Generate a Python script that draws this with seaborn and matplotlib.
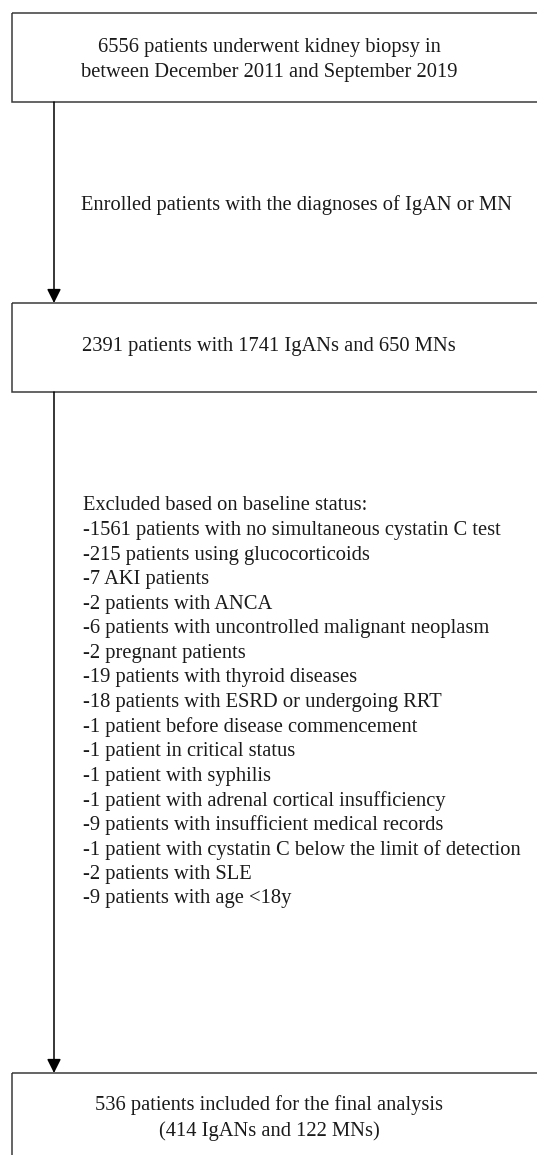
import seaborn as sns
import matplotlib.pyplot as plt
from matplotlib.patches import Rectangle

sns.set_theme(style="white")
plt.rcParams['font.family'] = ['Liberation Serif', 'DejaVu Serif']

# flowchart content
box_texts = [
    "6556 patients underwent kidney biopsy in\nbetween December 2011 and September 2019",
    "2391 patients with 1741 IgANs and 650 MNs",
    "536 patients included for the final analysis\n(414 IgANs and 122 MNs)",
]
step_label = "Enrolled patients with the diagnoses of IgAN or MN"
exclusion_title = "Excluded based on baseline status:"
exclusion_items = [
    "-1561 patients with no simultaneous cystatin C test",
    "-215 patients using glucocorticoids",
    "-7 AKI patients",
    "-2 patients with ANCA",
    "-6 patients with uncontrolled malignant neoplasm",
    "-2 pregnant patients",
    "-19 patients with thyroid diseases",
    "-18 patients with ESRD or undergoing RRT",
    "-1 patient before disease commencement",
    "-1 patient in critical status",
    "-1 patient with syphilis",
    "-1 patient with adrenal cortical insufficiency",
    "-9 patients with insufficient medical records",
    "-1 patient with cystatin C below the limit of detection",
    "-2 patients with SLE",
    "-9 patients with age <18y",
]

# layout in pixel units
box_top = [13, 303, 1073]
box_bottom = [102, 392, 1175]
text_y = [60, 347, 1118]
fs = 14.8

fig = plt.figure(figsize=(5.37, 11.55), dpi=100)
ax = fig.add_axes([0, 0, 1, 1])
ax.set_xlim(0, 537)
ax.set_ylim(1155, 0)
ax.axis("off")

for top, bot, txt, ty in zip(box_top, box_bottom, box_texts, text_y):
    ax.add_patch(Rectangle((12, top), 560, bot - top, fill=False,
                           edgecolor="#3a3a3a", lw=1.1, clip_on=True))
    ax.text(269, ty, txt, ha="center", va="center", fontsize=fs,
            color="#1a1a1a", linespacing=1.4)

# arrows
for y0, y1 in [(box_bottom[0], box_top[1]), (box_bottom[1], box_top[2])]:
    ax.annotate("", xy=(54, y1), xytext=(54, y0),
                arrowprops=dict(arrowstyle="-|>,head_length=0.7,head_width=0.35",
                                color="black", lw=1.1, shrinkA=0, shrinkB=0))

ax.text(81, 205, step_label, ha="left", va="center", fontsize=fs, color="#1a1a1a")

ax.text(83, 505, exclusion_title, ha="left", va="center", fontsize=fs, color="#1a1a1a")
for i, item in enumerate(exclusion_items):
    ax.text(83, 530.5 + i * 24.55, item, ha="left", va="center", fontsize=fs,
            color="#1a1a1a")

fig.savefig("out.png", dpi=100)
